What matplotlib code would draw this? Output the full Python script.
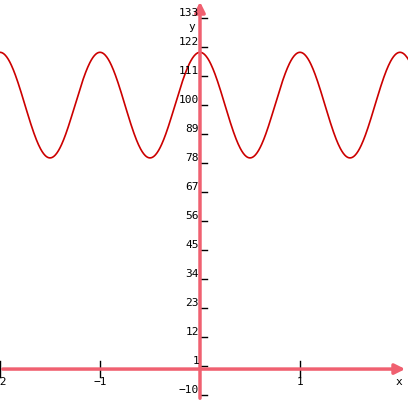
import numpy as np
import matplotlib.pyplot as plt

# curve y = 100 + 20*cos(2*pi*x)
mean, amp = 100, 20
x = np.linspace(-2.0, 2.1, 800)
y = mean + amp * np.cos(2 * np.pi * x)

xticks = [-2, -1, 1]
xtick_labels = ['-2', '\u22121', '1']
yticks = [-10, 1, 12, 23, 34, 45, 56, 67, 78, 89, 100, 111, 122, 133]

axc = '#f06070'
fig = plt.figure(figsize=(4.08, 4.02), dpi=100)
ax = fig.add_axes([0, 0, 1, 1])
ax.set_xlim(-2.0, 2.08)
ax.set_ylim(-12.1, 140.2)
ax.axis('off')

ax.plot(x, y, color='#cc0000', lw=1.2, zorder=3)

ax.annotate('', xy=(2.08, 0), xytext=(-2.0, 0),
            arrowprops=dict(arrowstyle='-|>', color=axc, lw=2.5, mutation_scale=15))
ax.annotate('', xy=(0, 140.2), xytext=(0, -12.1),
            arrowprops=dict(arrowstyle='-|>', color=axc, lw=2.5, mutation_scale=15))

for t, lab in zip(xticks, xtick_labels):
    ax.plot([t, t], [-3, 3], color='black', lw=1)
    ax.text(t, -2.5, lab, ha='center', va='top', fontsize=8, family='DejaVu Sans Mono')
for t in yticks:
    ax.plot([0, 0.07], [t, t], color='black', lw=1)
    ax.text(-0.01, t + 0.5, str(t).replace('-', '\u2212'), ha='right', va='bottom',
            fontsize=8, family='DejaVu Sans Mono')
ax.text(-0.05, 130, 'y', ha='right', va='center', fontsize=8, family='DejaVu Sans Mono')
ax.text(1.99, -2.5, 'x', ha='center', va='top', fontsize=8, family='DejaVu Sans Mono')

fig.savefig('out.png', dpi=100)
